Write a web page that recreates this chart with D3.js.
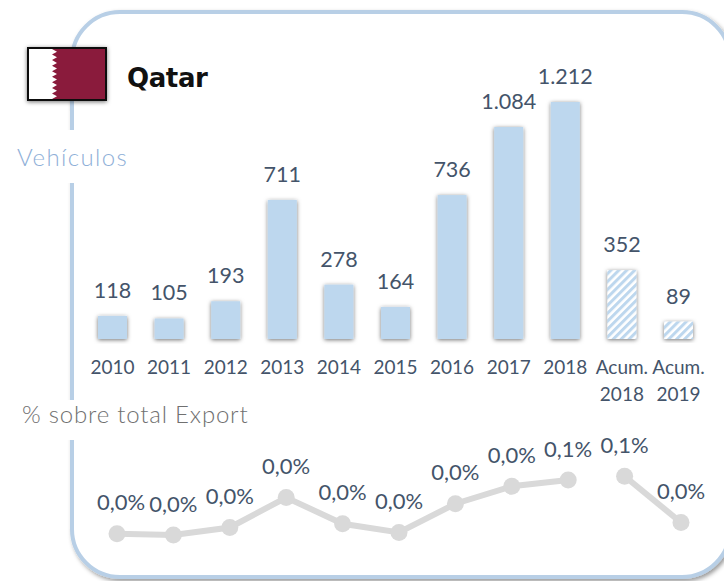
<!DOCTYPE html>
<html><head><meta charset="utf-8">
<script src="https://cdn.jsdelivr.net/npm/d3@7/dist/d3.min.js"></script>
<style>html,body{margin:0;padding:0;background:#fff;overflow:hidden}svg{display:block}</style>
</head><body><div id="c"></div>
<script>
const categories=["2010","2011","2012","2013","2014","2015","2016","2017","2018","Acum. 2018","Acum. 2019"];
const vehicles=[118,105,193,711,278,164,736,1084,1212,352,89];
const hatched=[false,false,false,false,false,false,false,false,false,true,true];
const sharePct=[0.009,0.008,0.014,0.038,0.017,0.010,0.033,0.047,0.052,0.055,0.018];
const segmentA=categories.slice(0,9);
const segmentB=categories.slice(9);

const W=724,H=581;
const svg=d3.select("#c").append("svg").attr("width",W).attr("height",H);
const defs=svg.append("defs");
const sh=defs.append("filter").attr("id","sh").attr("x","-30%").attr("y","-20%").attr("width","160%").attr("height","140%");
sh.append("feDropShadow").attr("dx",0).attr("dy",1).attr("stdDeviation",2).attr("flood-color","#000").attr("flood-opacity",.55);
const fs=defs.append("filter").attr("id","fs").attr("x","-5%").attr("y","-5%").attr("width","110%").attr("height","110%");
fs.append("feDropShadow").attr("dx",2).attr("dy",2.5).attr("stdDeviation",2).attr("flood-color","#000").attr("flood-opacity",.4);
const p=defs.append("pattern").attr("id","hatch").attr("width",5.6).attr("height",5.6).attr("patternUnits","userSpaceOnUse").attr("patternTransform","rotate(-45)");
p.append("rect").attr("width",5.6).attr("height",5.6).attr("fill","#fff");
p.append("rect").attr("width",5.6).attr("height",3).attr("fill","#bdd7ee");

// frame
svg.append("rect").attr("x",72).attr("y",12).attr("width",658).attr("height",565).attr("rx",48).attr("ry",48)
  .attr("fill","#fff").attr("stroke","#b8cfe6").attr("stroke-width",4).attr("filter","url(#fs)");
svg.append("rect").attr("x",10).attr("y",130).attr("width",130).attr("height",53).attr("fill","#fff");
svg.append("rect").attr("x",10).attr("y",400).attr("width",245).attr("height",40).attr("fill","#fff");

// bars
const x=d3.scalePoint().domain(categories).range([112.5,678.5]);
const y=d3.scaleLinear().domain([0,1212]).range([339,102]);
const bw=29;
svg.append("g").selectAll("rect").data(categories).join("rect")
  .attr("x",d=>x(d)-bw/2).attr("width",bw)
  .attr("y",(d,i)=>y(vehicles[i])).attr("height",(d,i)=>y(0)-y(vehicles[i]))
  .attr("fill",(d,i)=>hatched[i]?"url(#hatch)":"#bdd7ee").attr("filter","url(#sh)");
svg.append("g").selectAll("text").data(categories).join("text")
  .attr("x",d=>x(d)).attr("y",(d,i)=>y(vehicles[i])-18)
  .attr("text-anchor","middle").attr("class","t").attr("font-size",21.5)
  .text((d,i)=>d3.format(",")(vehicles[i]).replace(/,/g,"."));

// axis labels
const ax=svg.append("g");
categories.forEach(c=>{
  const parts=c.split(" ");
  parts.forEach((s,j)=>ax.append("text").attr("x",x(c)).attr("y",374+j*26.5).attr("text-anchor","middle").attr("class","t").attr("font-size",19).text(s));
});

// line
const xl=d3.scalePoint().domain(categories).range([117,681]);
const yl=d3.scaleLinear().domain([0,0.06]).range([545,470]);
const line=d3.line().x(d=>xl(d)).y(d=>yl(sharePct[categories.indexOf(d)]));
[segmentA,segmentB].forEach(s=>svg.append("path").attr("d",line(s)).attr("fill","none").attr("stroke","#d9d9d9").attr("stroke-width",6));
svg.append("g").selectAll("circle").data(categories).join("circle")
  .attr("cx",d=>xl(d)).attr("cy",(d,i)=>yl(sharePct[i])).attr("r",8.5).attr("fill","#d9d9d9");
const fmt=v=>d3.format(".1f")(v).replace(".",",")+"%";
svg.append("g").selectAll("text").data(categories).join("text")
  .attr("x",(d,i)=>xl(d)+(i===0?4:0))
  .attr("y",(d,i)=>yl(sharePct[i])-23.5)
  .attr("text-anchor","middle").attr("class","t").attr("font-size",22)
  .text((d,i)=>fmt(sharePct[i]));

// flag
const fg=svg.append("g");
fg.append("rect").attr("x",28).attr("y",48).attr("width",78).attr("height",52).attr("fill","#fff").attr("stroke","#111").attr("stroke-width",2).attr("filter","url(#sh)");
const teeth=d3.range(9);
const th=50/9, ft=49;
let fd=`M105 ${ft}H52`;
teeth.forEach(i=>{fd+=`L57 ${ft+th*(i+.5)}L52 ${ft+th*(i+1)}`;});
fd+=`V99H105Z`;
fg.append("path").attr("d",fd).attr("fill","#8a1b3c");

svg.append("text").attr("x",127).attr("y",87).attr("font-family","'DejaVu Sans',sans-serif").attr("font-weight",700).attr("font-size",26).attr("letter-spacing",-0.4).attr("fill","#111").text("Qatar");
svg.append("text").attr("x",17).attr("y",166).attr("font-family","'Lato',sans-serif").attr("font-weight",300).attr("font-size",24).attr("letter-spacing",1.4).attr("fill","#8fb0d8").text("Vehículos");
svg.append("text").attr("x",22).attr("y",423).attr("font-family","'Lato',sans-serif").attr("font-weight",300).attr("font-size",24).attr("letter-spacing",0.8).attr("fill","#707070").text("% sobre total Export");
svg.selectAll(".t").attr("font-family","'Lato',sans-serif").attr("fill","#44546a");
</script></body></html>
